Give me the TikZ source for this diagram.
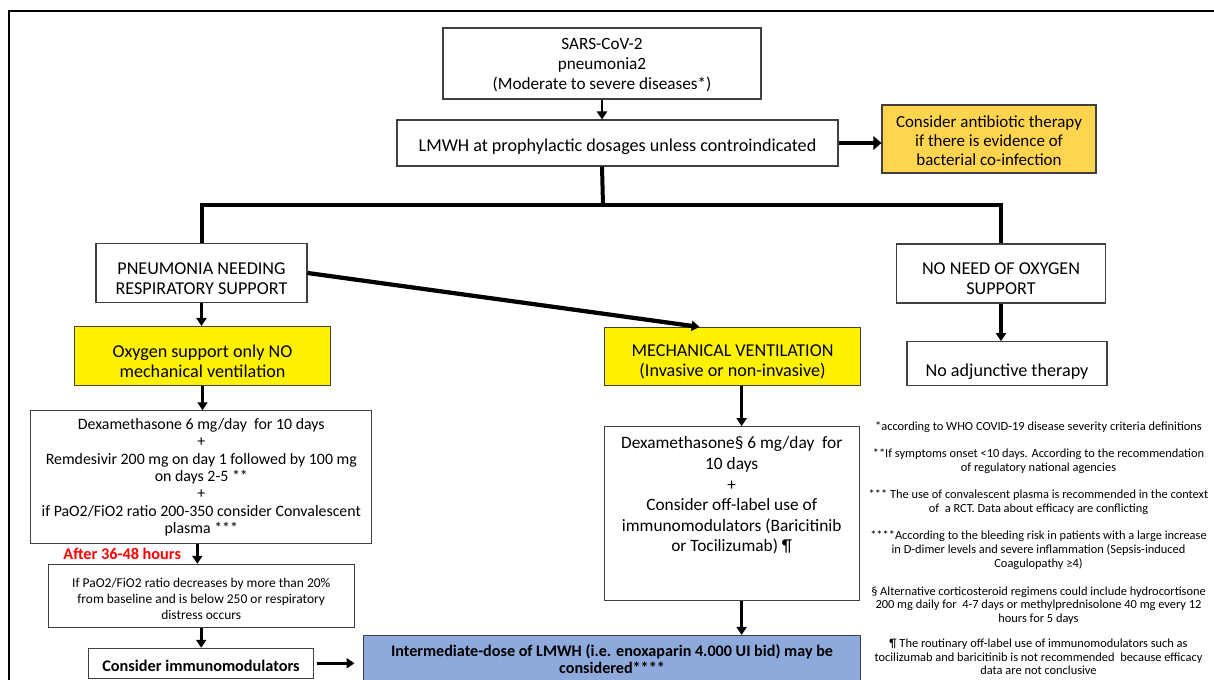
\documentclass[tikz,border=0pt]{standalone}
\usepackage{fontspec}
\setmainfont{Carlito}
\usetikzlibrary{arrows.meta,calc,positioning}
\definecolor{boxgray}{HTML}{404040}
\definecolor{abxgold}{HTML}{FFD54F}
\definecolor{lmwhblue}{HTML}{8EA9DB}
\newcommand{\lowtext}[1]{\rule{0pt}{#1}}

\begin{document}
\begin{tikzpicture}[x=0.75pt, y=-0.75pt,
    box/.style={draw=boxgray, line width=0.8pt, fill=white, align=center, inner sep=0pt},
    sz/.style 2 args={minimum width=#1*0.75pt, minimum height=#2*0.75pt},
    big/.style={font=\fontsize{13.6}{15}\selectfont},
    note/.style={align=center, inner sep=0pt, font=\fontsize{9.3}{10.3}\selectfont},
    conn/.style={line width=2.4pt, -{Triangle[length=6pt,width=7.5pt]}},
    trunk/.style={line width=3pt}]
    \useasboundingbox (0,0) rectangle (1214,680);
    \clip (0,0) rectangle (1214,680);

    \draw[line width=1.6pt] (9,700) -- (9,11) -- (1230,11);

    % top of the chart
    \node[box, sz={318}{71}, font=\fontsize{12.9}{15}\selectfont] (sars) at (602,63.5) {\lowtext{10.5pt}SARS-CoV-2\\pneumonia2\\(Moderate to severe diseases*)};
    \node[box, big, sz={441}{46}] (lmwh) at (617.5,143) {\lowtext{15.6pt}LMWH at prophylactic dosages unless controindicated};
    \node[box, fill=abxgold, sz={214}{68}, font=\fontsize{12.7}{14.3}\selectfont] (abx) at (989,139) {\lowtext{11.9pt}Consider antibiotic therapy\\if there is evidence of\\bacterial co-infection};

    % the two branches
    \node[box, big, sz={211}{59}] (pneu) at (201.5,273) {\lowtext{17pt}PNEUMONIA NEEDING\\RESPIRATORY SUPPORT};
    \node[box, big, sz={209}{59}] (noneed) at (1001,273.5) {\lowtext{16.3pt}NO NEED OF OXYGEN\\SUPPORT};
    \node[box, big, fill=yellow, sz={256}{59}] (oxy) at (202.5,356) {\lowtext{17.1pt}Oxygen support only NO\\mechanical ventilation};
    \node[box, big, fill=yellow, sz={256}{58}] (mv) at (732.6,356.5) {\lowtext{16.3pt}MECHANICAL VENTILATION\\(Invasive or non-invasive)};
    \node[box, sz={200}{44}] (noadj) at (1007,363.7) {};
    \node[big] (noadjtext) at (1007,372) {No adjunctive therapy};

    % treatments
    \node[box, sz={341}{133}, font=\fontsize{11.9}{13.1}\selectfont] (dexox) at (201.3,477.3) {Dexamethasone 6 mg/day\ \ for 10 days\\+\\Remdesivir 200 mg on day 1 followed by 100 mg\\on days 2-5 **\\+\\if PaO2/FiO2 ratio 200-350 consider Convalescent\\plasma ***};
    \node[box, sz={306}{63}, font=\fontsize{10.1}{12}\selectfont] (ifbox) at (201.2,595.8) {\lowtext{12.1pt}If PaO2/FiO2 ratio decreases by more than 20\%\\from baseline and is below 250 or respiratory\\distress occurs};
    \node[box, sz={225}{30}, font=\bfseries\fontsize{12.2}{14}\selectfont] (consider) at (201,663.3) {\lowtext{11.7pt}Consider immunomodulators};
    \node[box, sz={255}{174}] (dexmv) at (731.7,513.7) {};
    \node[align=center, font=\fontsize{13}{15.4}\selectfont] (dexmvtext) at (731.7,495.5) {Dexamethasone§ 6 mg/day\ \ for\\10 days\\+\\Consider off-label use of\\immunomodulators (Baricitinib\\or Tocilizumab) ¶};
    \node[box, fill=lmwhblue, sz={497}{47}, font=\bfseries\fontsize{12.1}{12.5}\selectfont] (lmwhint) at (612,659) {Intermediate-dose of LMWH (i.e. enoxaparin 4.000 UI bid) may be\\considered****};

    % footnotes
    \node[note] (fn1) at (1038.5,427) {*according to WHO COVID-19 disease severity criteria definitions};
    \node[note] (fn2) at (1038.5,461) {**If symptoms onset <10 days. According to the recommendation\\of regulatory national agencies};
    \node[note] (fn3) at (1038.5,502) {*** The use of convalescent plasma is recommended in the context\\of\ \ a RCT. Data about efficacy are conflicting};
    \node[note] (fn4) at (1038.5,550) {****According to the bleeding risk in patients with a large increase\\in D-dimer levels and severe inflammation (Sepsis-induced\\Coagulopathy ≥4)};
    \node[note] (fn5) at (1038.5,605.5) {§ Alternative corticosteroid regimens could include hydrocortisone\\200 mg daily for\ \ 4-7 days or methylprednisolone 40 mg every 12\\hours for 5 days};
    \node[note] (fn6) at (1038.5,657) {¶ The routinary off-label use of immunomodulators such as\\tocilizumab and baricitinib is not recommended\ \ because efficacy\\data are not conclusive};

    % connectors
    \coordinate (split) at (603,205);
    \draw[conn, line width=1.8pt] (sars.south) -- (sars.south |- lmwh.north);
    \draw[conn, line width=3.5pt, -{Triangle[length=6pt,width=10pt]}] (lmwh.east) -- (lmwh.east -| abx.west);
    \draw[trunk] (sars.south |- lmwh.south) -- (split);
    \draw[trunk] (pneu.north) -- (pneu.north |- split) -- (noneed.north |- split) -- (noneed.north);
    \draw[conn] (pneu.south) -- (pneu.south |- oxy.north);
    \draw[conn, line width=3.2pt] (pneu.east) -- ($(mv.north)+(-33,0)$);
    \draw[conn] (noneed.south) -- (noneed.south |- noadj.north);
    \draw[conn] (oxy.south) -- (oxy.south |- dexox.north);
    \coordinate (mvout) at ($(mv.south)+(9,0)$);
    \draw[conn] (mvout) -- (mvout |- dexmv.north);
    \coordinate (dexoxout) at ($(dexox.south)+(-4,0)$);
    \draw[conn] (dexoxout) -- node[left=11pt, inner sep=0pt, text=red, font=\bfseries\fontsize{12.2}{14}\selectfont] (after) {After 36-48 hours} (dexoxout |- ifbox.north);
    \draw[conn] (ifbox.south) -- (ifbox.south |- consider.north);
    \draw[conn, shorten <=2pt, shorten >=6.3pt] (consider.east) -- (consider.east -| lmwhint.west);
    \coordinate (dexmvout) at (mvout |- dexmv.south);
    \draw[conn] (dexmvout) -- (dexmvout |- lmwhint.north);
\end{tikzpicture}
\end{document}
